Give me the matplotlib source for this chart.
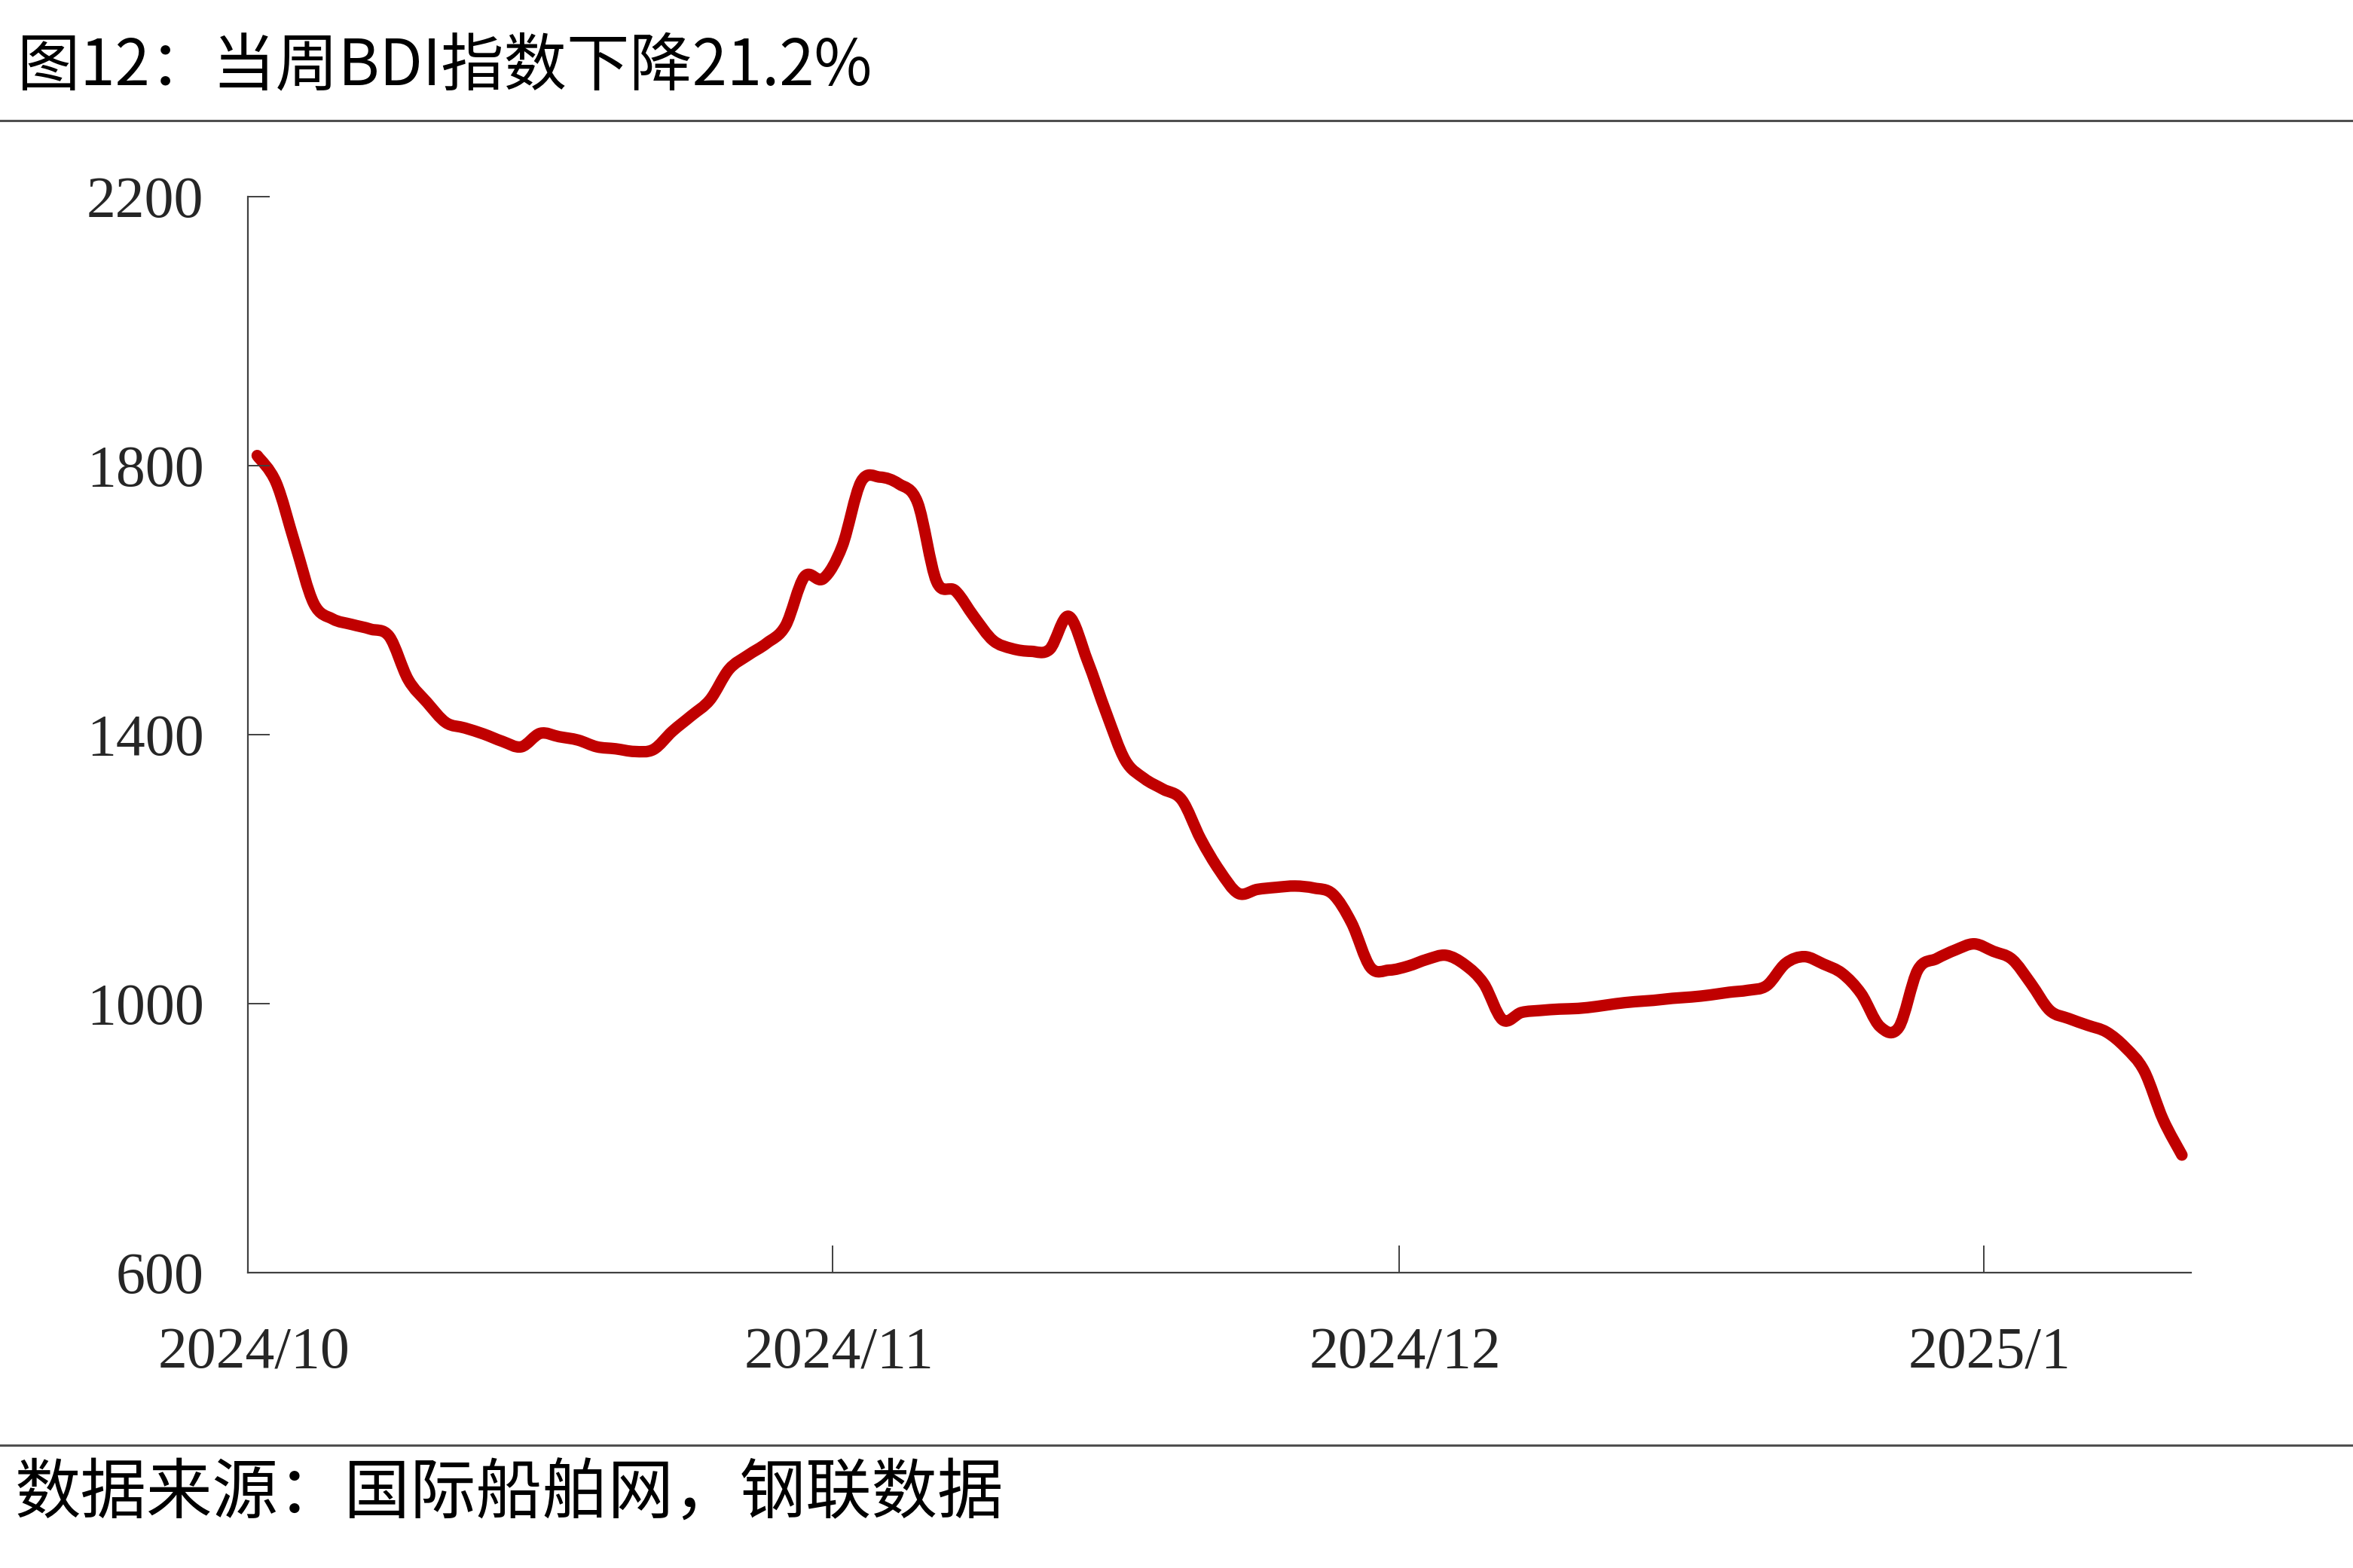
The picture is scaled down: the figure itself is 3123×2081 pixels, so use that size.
import matplotlib
matplotlib.use('Agg')
import matplotlib.pyplot as plt
import matplotlib.dates as mdates
from matplotlib.lines import Line2D
from matplotlib.path import Path
from matplotlib.patches import PathPatch
import matplotlib.transforms as mtransforms
import numpy as np
import pandas as pd

# ---------------- data (BDI) ----------------
start_date = '2024-10-01 12:00'
bdi_values = [
    1815, 1775, 1684, 1595, 1572, 1564, 1557, 1546, 1482, 1448,   # Oct 1-10
    1418, 1410, 1401, 1390, 1382, 1402, 1397, 1392, 1382, 1379,   # Oct 11-20
    1375, 1378, 1405, 1428, 1452, 1497, 1518, 1536, 1562, 1635,   # Oct 21-30
    1632, 1680, 1776, 1783, 1773, 1745, 1628, 1614, 1575, 1540,   # Oct 31-Nov 9
    1528, 1524, 1527, 1576, 1510, 1432, 1362, 1335, 1319, 1303,   # Nov 10-19
    1245, 1198, 1164, 1170, 1173, 1175, 1172, 1163, 1120, 1054,   # Nov 20-29
    1050, 1056, 1066, 1072, 1058, 1030, 976, 987, 990, 992,       # Nov 30-Dec 9
    993, 996, 1000, 1003, 1005, 1008, 1010, 1013, 1017, 1020,     # Dec 10-19
    1027, 1060, 1070, 1059, 1045, 1015, 966, 965, 1050, 1067,     # Dec 20-29
    1080, 1089, 1078, 1066, 1030, 990, 978, 968, 958, 935,        # Dec 30-Jan 8
    900, 828, 775,                                                # Jan 9-11
]
x_start = '2024-10-01'
x_end = '2025-01-12'

y_ticks = [600, 1000, 1400, 1800, 2200]
x_tick_dates = ['2024-10-01', '2024-11-01', '2024-12-01', '2025-01-01']
x_tick_labels = ['2024/10', '2024/11', '2024/12', '2025/1']

title_text = '图12：当周BDI指数下降21.2%'
source_text = '数据来源：国际船舶网，钢联数据'

# ---------------- figure ----------------
dates = pd.date_range(start_date, periods=len(bdi_values), freq='D')

cjk = ['Noto Sans CJK SC', 'DejaVu Sans']
serif = ['Liberation Serif', 'DejaVu Serif']

fig = plt.figure(figsize=(31.23, 20.81), dpi=100)
fig.patch.set_facecolor('white')

ax = fig.add_axes([0.1053, 0.1883, 0.826, 0.6863])

# smoothed line (Catmull-Rom -> cubic Bezier) through the data points
xs = mdates.date2num(dates)
ys = np.asarray(bdi_values, dtype=float)
P = np.column_stack([xs, ys])
Pe = np.vstack([P[0], P, P[-1]])
verts = [tuple(P[0])]
codes = [Path.MOVETO]
for i in range(len(P) - 1):
    p0, p1, p2, p3 = Pe[i], Pe[i + 1], Pe[i + 2], Pe[i + 3]
    c1 = p1 + (p2 - p0) / 6.0
    c2 = p2 - (p3 - p1) / 6.0
    verts += [tuple(c1), tuple(c2), tuple(p2)]
    codes += [Path.CURVE4] * 3
patch = PathPatch(Path(verts, codes), facecolor='none', edgecolor='#C00000',
                  lw=11, capstyle='round', joinstyle='round',
                  transform=ax.transData, clip_on=False)
ax.add_patch(patch)

ax.set_ylim(y_ticks[0], y_ticks[-1])
ax.set_yticks(y_ticks)
ax.set_xlim(pd.Timestamp(x_start), pd.Timestamp(x_end))
ax.set_xticks(pd.to_datetime(x_tick_dates))
ax.set_xticklabels(x_tick_labels)

for s in ['top', 'right']:
    ax.spines[s].set_visible(False)
for s in ['left', 'bottom']:
    ax.spines[s].set_color('#404040')
    ax.spines[s].set_linewidth(1.6)

ax.tick_params(axis='both', direction='in', color='#404040', width=1.4,
               labelsize=56, labelcolor='#262626')
ax.tick_params(axis='y', length=21, pad=42)
ax.tick_params(axis='x', length=26, pad=52)
shift = mtransforms.ScaledTranslation(0.08, 0, fig.dpi_scale_trans)
for lab in ax.get_xticklabels():
    lab.set_fontfamily(serif)
    lab.set_transform(lab.get_transform() + shift)
for lab in ax.get_yticklabels():
    lab.set_fontfamily(serif)

# title and source
fig.text(0.0075, 0.9575, title_text, fontsize=60, family=cjk,
         ha='left', va='center', color='#000000')
fig.add_artist(Line2D([0, 1], [0.9231, 0.9231], transform=fig.transFigure,
                      color='#505050', lw=2.2))
fig.add_artist(Line2D([0, 1], [0.0783, 0.0783], transform=fig.transFigure,
                      color='#505050', lw=2.2))
fig.text(0.0064, 0.0466, source_text, fontsize=63, family=cjk,
         ha='left', va='center', color='#000000')

fig.savefig('out.png', dpi=100, facecolor='white')
